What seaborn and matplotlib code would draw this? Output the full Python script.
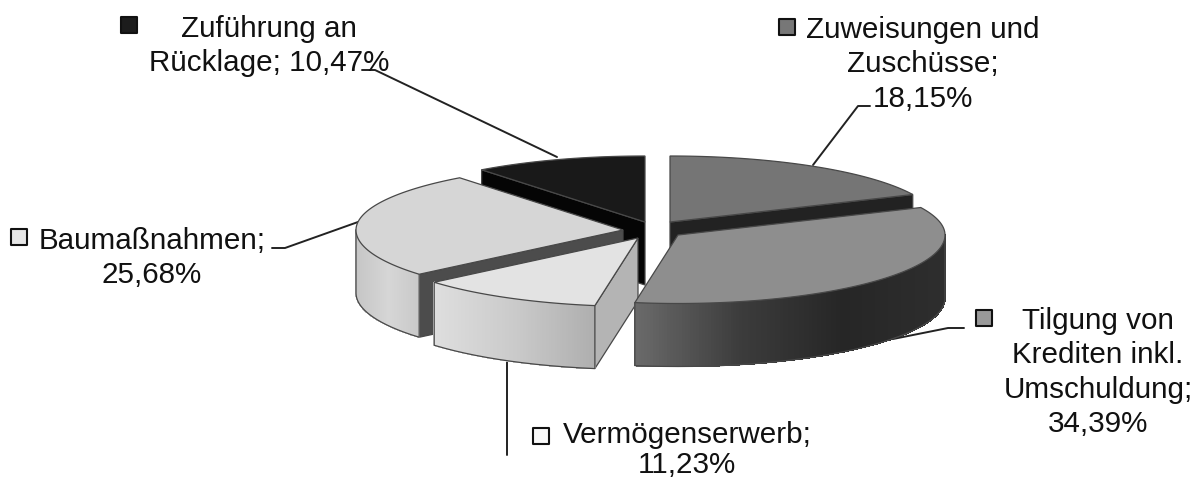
import numpy as np
import seaborn as sns
import matplotlib
matplotlib.use("Agg")
import matplotlib.pyplot as plt

# slices, clockwise from 12 o'clock
names = ["Zuweisungen und\nZuschüsse;\n", "Tilgung von\nKrediten inkl.\nUmschuldung;\n", "Vermögenserwerb;\n", "Baumaßnahmen;\n", "Zuführung an\nRücklage; "]
shares = [18.15, 34.39, 11.23, 25.68, 10.47]
pct_labels = ["18,15%", "34,39%", "11,23%", "25,68%", "10,47%"]

top_colors = ["#757575", "#8e8e8e", "#e3e3e3", "#d6d6d6", "#191919"]
face_colors = ["#222222", "#333333", "#b4b4b4", "#4c4c4c", "#050505"]
side_colors = [["#777777", "#777777"], ["#6a6a6a", "#3c3c3c", "#262626", "#2e2e2e"],
               ["#dedede", "#cacaca", "#aeaeae"], ["#c6c6c6", "#d6d6d6", "#c8c8c8"], ["#000000", "#000000"]]
key_colors = ["#777777", "#999999", "#fafafa", "#e6e6e6", "#1c1c1c"]

# apex of each exploded slice on the page
apex = [(670, 222), (678, 235), (638, 238), (623, 230), (645, 222)]
RX, RY_BACK, RY_FRONT, DEPTH = 267, 66, 68.5, 63
EDGE = "#484848"

sns.set_theme(style="white")
plt.rcParams['font.family'] = ['Liberation Sans', 'DejaVu Sans']

fig = plt.figure(figsize=(11.98, 4.82), dpi=100)
ax = fig.add_axes([0, 0, 1, 1])
ax.set_xlim(0, 1198)
ax.set_ylim(482, 0)
ax.axis("off")


def rim(a, t):
  ry = np.where(np.cos(t) < 0, RY_FRONT, RY_BACK)
  return a[0] + RX * np.sin(t), a[1] - ry * np.cos(t)


def draw_slice(i, t0, t1, z):
  a = apex[i]
  t = np.linspace(t0, t1, 200)
  x, y = rim(a, t)
  # radial walls facing the viewer
  for edge, normal in ((t0, t0 - np.pi / 2), (t1, t1 + np.pi / 2)):
    if np.cos(normal) < -1e-6:
      ex, ey = rim(a, np.array([edge]))
      ax.fill([a[0], ex[0], ex[0], a[0]], [a[1], ey[0], ey[0] + DEPTH, a[1] + DEPTH],
              fc=face_colors[i], ec=EDGE, lw=0.9, zorder=z)
  # outer wall, shaded in strips from left to right
  lo, hi = max(t0, np.pi / 2), min(t1, 3 * np.pi / 2)
  if lo < hi:
    ts = np.linspace(lo, hi, 161)
    sx, sy = rim(a, ts)
    pal = sns.blend_palette(side_colors[i], 256)
    span = max(sx.max() - sx.min(), 1)
    for k in range(len(ts) - 1):
      c = pal[int(255 * ((sx[k] + sx[k + 1]) / 2 - sx.min()) / span)]
      ax.fill([sx[k], sx[k + 1], sx[k + 1], sx[k]],
              [sy[k], sy[k + 1], sy[k + 1] + DEPTH, sy[k] + DEPTH], color=c, lw=0.5, antialiased=False, zorder=z)
    ax.plot(np.r_[sx[0], sx, sx[-1]], np.r_[sy[0], sy + DEPTH, sy[-1]], color=EDGE, lw=0.9, zorder=z)
  ax.fill(np.r_[a[0], x], np.r_[a[1], y], fc=top_colors[i], ec=EDGE, lw=0.9, zorder=z)


ends = np.cumsum(shares) / np.sum(shares) * 2 * np.pi
starts = np.r_[0, ends[:-1]]
# back to front
for z, i in enumerate([4, 0, 3, 2, 1]):
  draw_slice(i, starts[i], ends[i], z + 1)

# leader lines
leaders = [[(813, 165), (858, 106), (870, 106)],
           [(893, 339), (948, 328), (964, 328)],
           [(507, 361), (507, 455)],
           [(358, 222), (285, 248), (272, 248)],
           [(557, 157), (375, 70), (362, 70)]]
for pts in leaders:
  px, py = zip(*pts)
  ax.plot(px, py, color="#222222", lw=1.4, zorder=0)

# labels: (x, y) of the centre of the block, key position, line spacing
FS = 21.3
blocks = [(923, 64.5, (786.5, 27), 1.3), (1098, 372.5, (983.5, 318), 1.3), (687, 450, (540.5, 435.5), 1.1),
          (152, 258, (18.5, 237), 1.3), (269, 46, (129, 25), 1.3)]
for i, (tx, ty, key, spacing) in enumerate(blocks):
  ax.text(tx, ty, names[i] + pct_labels[i], ha="center", va="center", fontsize=FS,
          color="#111111", linespacing=spacing, zorder=10)
  ax.scatter([key[0]], [key[1]], marker="s", s=125, c=key_colors[i], edgecolors="#111111", linewidths=1.5, zorder=10)

fig.savefig("out.png", dpi=100)
